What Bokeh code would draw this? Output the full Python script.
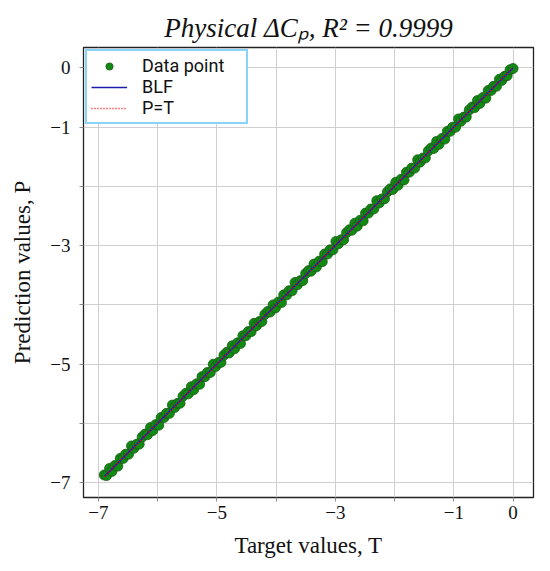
from bokeh.plotting import figure
from bokeh.models import FixedTicker, Range1d, Legend, LegendItem
from bokeh.embed import file_html
from bokeh.resources import INLINE
import numpy as np

# ---- data ----
target = [-6.90, -6.86, -6.81, -6.77, -6.72, -6.67, -6.63, -6.58, -6.54, -6.49,
          -6.44, -6.40, -6.35, -6.31, -6.26, -6.21, -6.17, -6.12, -6.08, -6.03,
          -5.98, -5.94, -5.89, -5.85, -5.80, -5.75, -5.71, -5.66, -5.62, -5.57,
          -5.52, -5.48, -5.43, -5.39, -5.34, -5.29, -5.25, -5.20, -5.16, -5.11,
          -5.06, -5.02, -4.97, -4.93, -4.88, -4.83, -4.79, -4.74, -4.70, -4.65,
          -4.60, -4.56, -4.51, -4.47, -4.42, -4.37, -4.33, -4.28, -4.24, -4.19,
          -4.14, -4.10, -4.05, -4.01, -3.96, -3.91, -3.87, -3.82, -3.78, -3.73,
          -3.68, -3.64, -3.59, -3.55, -3.50, -3.45, -3.41, -3.36, -3.32, -3.27,
          -3.22, -3.18, -3.13, -3.09, -3.04, -2.99, -2.95, -2.90, -2.86, -2.81,
          -2.76, -2.72, -2.67, -2.63, -2.58, -2.53, -2.49, -2.44, -2.40, -2.35,
          -2.30, -2.26, -2.21, -2.17, -2.12, -2.07, -2.03, -1.98, -1.94, -1.89,
          -1.84, -1.80, -1.75, -1.71, -1.66, -1.61, -1.57, -1.52, -1.48, -1.43,
          -1.38, -1.34, -1.29, -1.25, -1.20, -1.15, -1.11, -1.06, -1.02, -0.97,
          -0.92, -0.88, -0.83, -0.79, -0.74, -0.69, -0.65, -0.60, -0.56, -0.51,
          -0.46, -0.42, -0.37, -0.33, -0.28, -0.23, -0.19, -0.14, -0.10, -0.05, 0.00]
predicted = [-6.87, -6.88, -6.76, -6.81, -6.71, -6.72, -6.59, -6.59, -6.52, -6.52,
             -6.38, -6.42, -6.35, -6.35, -6.23, -6.18, -6.19, -6.07, -6.12, -6.02,
             -6.03, -5.90, -5.90, -5.83, -5.83, -5.69, -5.73, -5.66, -5.66, -5.54,
             -5.49, -5.50, -5.38, -5.43, -5.33, -5.34, -5.21, -5.21, -5.14, -5.14,
             -5.00, -5.04, -4.97, -4.97, -4.85, -4.80, -4.81, -4.69, -4.74, -4.64,
             -4.65, -4.52, -4.52, -4.45, -4.45, -4.31, -4.35, -4.28, -4.28, -4.16,
             -4.11, -4.12, -4.00, -4.05, -3.95, -3.96, -3.83, -3.83, -3.76, -3.76,
             -3.62, -3.66, -3.59, -3.59, -3.47, -3.42, -3.43, -3.31, -3.36, -3.26,
             -3.27, -3.14, -3.14, -3.07, -3.07, -2.93, -2.97, -2.90, -2.90, -2.78,
             -2.73, -2.74, -2.62, -2.67, -2.57, -2.58, -2.45, -2.45, -2.38, -2.38,
             -2.24, -2.28, -2.21, -2.21, -2.09, -2.04, -2.05, -1.93, -1.98, -1.88,
             -1.89, -1.76, -1.76, -1.69, -1.69, -1.55, -1.59, -1.52, -1.52, -1.40,
             -1.35, -1.36, -1.24, -1.29, -1.19, -1.20, -1.07, -1.07, -1.00, -1.00,
             -0.86, -0.90, -0.83, -0.83, -0.71, -0.66, -0.67, -0.55, -0.60, -0.50,
             -0.51, -0.38, -0.38, -0.31, -0.31, -0.19, -0.21, -0.14, -0.13, -0.03, -0.01]
tick_values = [-7, -6, -5, -4, -3, -2, -1, 0]
tick_text = {-7: "\u22127", -6: "", -5: "\u22125", -4: "", -3: "\u22123",
             -2: "", -1: "\u22121", 0: "0"}
title_text = "Physical \u0394C\u209a, R\u00b2 = 0.9999"
x_label = "Target values, T"
y_label = "Prediction values, P"
legend_labels = ["Data point", "BLF", "P=T"]

# best linear fit
t_arr = np.array(target)
p_arr = np.array(predicted)
slope, intercept = np.polyfit(t_arr, p_arr, 1)
blf_x = [min(target), max(target)]
blf_y = [slope * v + intercept for v in blf_x]
pt_x = [min(target), max(target)]

p = figure(width=550, height=571, output_backend="svg", toolbar_location=None,
           x_range=Range1d(-7.25, 0.345), y_range=Range1d(-7.25, 0.345),
           min_border_left=83, min_border_right=17, min_border_top=47, min_border_bottom=74)

p.title.text = title_text
p.title.text_font = "Liberation Serif"
p.title.text_font_style = "italic"
p.title.text_font_size = "27px"
p.title.align = "center"
p.title.text_color = "#111111"
p.title.offset = 0
p.title.standoff = 10

p.outline_line_color = "#222222"
p.outline_line_width = 1.3
p.background_fill_color = "white"
p.border_fill_color = "white"

for ax in (p.xaxis[0], p.yaxis[0]):
    ax.ticker = FixedTicker(ticks=tick_values)
    ax.major_label_overrides = tick_text
    ax.minor_tick_line_color = None
    ax.major_tick_in = 0
    ax.major_tick_out = 4
    ax.major_tick_line_color = "#8a8a8a"
    ax.axis_line_color = "#222222"
    ax.major_label_text_font = "Liberation Serif"
    ax.major_label_text_font_size = "19px"
    ax.major_label_text_color = "#111111"
    ax.axis_label_text_font = "Liberation Serif"
    ax.axis_label_text_font_style = "normal"
    ax.axis_label_text_color = "#111111"

p.xaxis[0].axis_label = x_label
p.yaxis[0].axis_label = y_label
p.xaxis[0].axis_label_text_font_size = "23px"
p.yaxis[0].axis_label_text_font_size = "23px"
p.xaxis[0].major_label_standoff = 4
p.xaxis[0].axis_label_standoff = 11
p.yaxis[0].major_label_standoff = 9
p.yaxis[0].axis_label_standoff = 12
p.yaxis[0].major_label_orientation = "horizontal"

p.xgrid.ticker = FixedTicker(ticks=tick_values)
p.ygrid.ticker = FixedTicker(ticks=tick_values)
p.grid.grid_line_color = "#cfcfcf"
p.grid.grid_line_width = 1

r_pts = p.scatter(target, predicted, size=10, fill_color="#108a10", line_color="#1a5a1a", line_width=0.8)
r_blf = p.line(blf_x, blf_y, line_color="#1c1cb0", line_width=1.6)
r_pt = p.line(pt_x, pt_x, line_color="red", line_width=1.4, line_dash="1 2")

legend = Legend(items=[LegendItem(label=legend_labels[0], renderers=[r_pts]),
                       LegendItem(label=legend_labels[1], renderers=[r_blf]),
                       LegendItem(label=legend_labels[2], renderers=[r_pt])],
                location="top_left")
legend.border_line_color = "#12aaee"
legend.border_line_width = 2
legend.label_text_font = "Roboto"
legend.label_text_font_size = "18px"
legend.label_text_color = "#111111"
legend.margin = 2
legend.padding = 4
legend.spacing = 0
legend.glyph_width = 36
legend.glyph_height = 18
legend.label_height = 18
legend.label_width = 100
legend.label_standoff = 15
legend.background_fill_alpha = 1
p.add_layout(legend)

open("out.html", "w").write(file_html(p, INLINE))
